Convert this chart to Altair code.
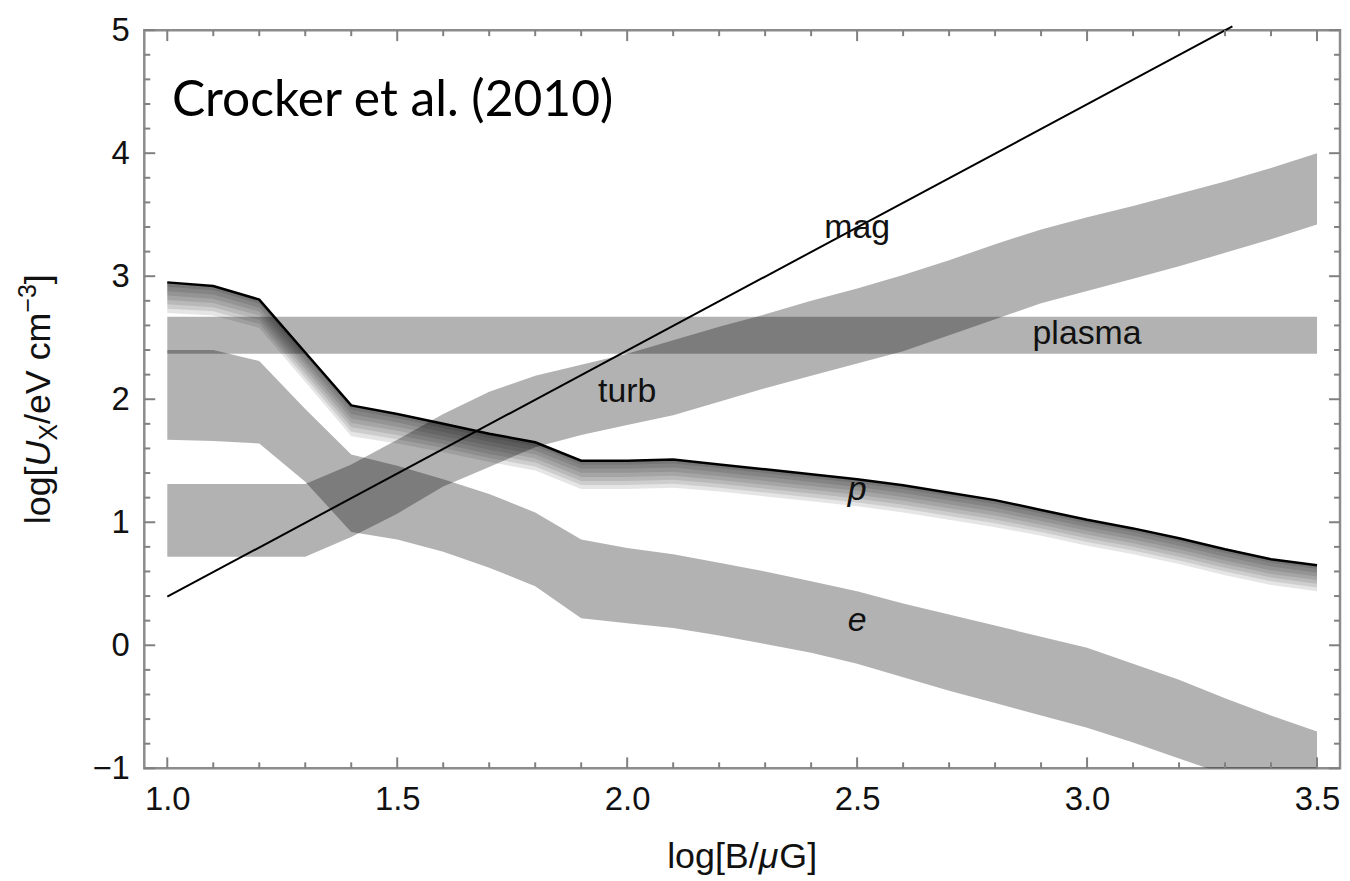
import altair as alt
import pandas as pd

# ---- data ----
B = [1.0, 1.1, 1.2, 1.3, 1.4, 1.5, 1.6, 1.7, 1.8, 1.9, 2.0, 2.1, 2.2,
     2.3, 2.4, 2.5, 2.6, 2.7, 2.8, 2.9, 3.0, 3.1, 3.2, 3.3, 3.4, 3.5]

turb_lo = [0.72, 0.72, 0.72, 0.72, 0.88, 1.07, 1.29, 1.45, 1.61, 1.71, 1.79, 1.87, 1.98,
           2.09, 2.19, 2.29, 2.39, 2.52, 2.65, 2.78, 2.88, 2.98, 3.08, 3.19, 3.30, 3.42]
turb_hi = [1.31, 1.31, 1.31, 1.31, 1.47, 1.67, 1.88, 2.06, 2.19, 2.28, 2.37, 2.48, 2.59,
           2.69, 2.80, 2.90, 3.01, 3.13, 3.26, 3.38, 3.48, 3.57, 3.67, 3.77, 3.88, 4.00]

e_lo = [1.67, 1.66, 1.64, 1.33, 0.92, 0.86, 0.76, 0.63, 0.48, 0.22, 0.18, 0.14, 0.08,
        0.01, -0.06, -0.15, -0.26, -0.37, -0.47, -0.57, -0.67, -0.79, -0.92, -1.05, -1.15, -1.25]
e_hi = [2.40, 2.40, 2.31, 1.92, 1.55, 1.46, 1.35, 1.23, 1.08, 0.86, 0.79, 0.74, 0.67,
        0.60, 0.52, 0.44, 0.34, 0.25, 0.16, 0.07, -0.02, -0.15, -0.28, -0.43, -0.57, -0.70]

p_hi = [2.95, 2.92, 2.81, 2.38, 1.95, 1.88, 1.80, 1.72, 1.65, 1.50, 1.50, 1.51, 1.47,
        1.43, 1.39, 1.35, 1.30, 1.24, 1.18, 1.10, 1.02, 0.95, 0.87, 0.78, 0.70, 0.65]
p_lo = [2.70, 2.68, 2.58, 2.14, 1.70, 1.64, 1.57, 1.49, 1.42, 1.27, 1.27, 1.28, 1.25,
        1.21, 1.17, 1.13, 1.08, 1.02, 0.96, 0.89, 0.81, 0.74, 0.66, 0.57, 0.49, 0.44]

plasma_B = [1.0, 3.5]
plasma_lo = [2.37, 2.37]
plasma_hi = [2.67, 2.67]

mag_B = [1.0, 3.316]
mag_U = [0.395, 5.03]

label_text = ["mag", "plasma", "turb"]
label_B = [2.5, 3.0, 2.0]
label_U = [3.31, 2.45, 1.98]

ital_text = ["p", "e"]
ital_B = [2.5, 2.5]
ital_U = [1.18, 0.12]

x_major = [1.0, 1.5, 2.0, 2.5, 3.0, 3.5]
x_minor = [1.1, 1.2, 1.3, 1.4, 1.6, 1.7, 1.8, 1.9, 2.1, 2.2, 2.3, 2.4,
           2.6, 2.7, 2.8, 2.9, 3.1, 3.2, 3.3, 3.4]
y_major = [-1, 0, 1, 2, 3, 4, 5]
y_minor = [-0.8, -0.6, -0.4, -0.2, 0.2, 0.4, 0.6, 0.8, 1.2, 1.4, 1.6, 1.8,
           2.2, 2.4, 2.6, 2.8, 3.2, 3.4, 3.6, 3.8, 4.2, 4.4, 4.6, 4.8]

# axis titles, typeset in pieces: (text, font size, style, baseline shift)
ytitle_parts = [("log[", 36, "normal", 0), ("U", 36, "italic", 0), ("X", 25, "normal", 7),
                ("/eV cm", 36, "normal", 0), ("−3", 25, "normal", -14), ("]", 36, "normal", 0)]
xtitle_parts = [("log[B/", 36, "normal"), ("μ", 36, "italic"), ("G]", 36, "normal")]

# Arial / Liberation Sans advance widths (em) for the title glyphs
ADV = {"l": 0.222, "o": 0.556, "g": 0.556, "[": 0.278, "]": 0.278, "U": 0.722, "X": 0.667,
       "/": 0.278, "e": 0.556, "V": 0.667, " ": 0.278, "c": 0.5, "m": 0.833, "−": 0.584,
       "3": 0.556, "B": 0.667, "μ": 0.576, "G": 0.778}

# ---- chart ----
W, H = 1202, 742
FONT = "Liberation Sans"
TXT = "#111111"
TICK = "#808080"

xs = alt.Scale(domain=[0.95, 3.55], nice=False, zero=False)
ys = alt.Scale(domain=[-1, 5], nice=False, zero=False)

bands = pd.DataFrame({"B": B, "turb_lo": turb_lo, "turb_hi": turb_hi,
                      "e_lo": e_lo, "e_hi": e_hi, "p_lo": p_lo, "p_hi": p_hi})
plasma = pd.DataFrame({"B": plasma_B, "lo": plasma_lo, "hi": plasma_hi})
mag = pd.DataFrame({"B": mag_B, "U": mag_U})
labels = pd.DataFrame({"B": label_B, "U": label_U, "t": label_text})
ital = pd.DataFrame({"B": ital_B, "U": ital_U, "t": ital_text})
crocker = pd.DataFrame({"B": [1.01], "U": [4.305], "t": ["Crocker et al. (2010)"]})

x_axis = alt.Axis(values=x_major, format=".1f", ticks=False, tickSize=0, domain=False,
                  grid=False, labelFont=FONT, labelFontSize=33, labelColor=TXT,
                  labelPadding=15, labelFlush=False, labelOverlap=False, title=None)
y_axis = alt.Axis(values=y_major, format="d", ticks=False, tickSize=0, domain=False,
                  grid=False, labelFont=FONT, labelFontSize=33, labelColor=TXT,
                  labelPadding=15, labelFlush=False, labelOverlap=False, title=None)


def XE(field):
    return alt.X(field, scale=xs, axis=x_axis)


def YE(field):
    return alt.Y(field, scale=ys, axis=y_axis)


band_mark = dict(fill="black", fillOpacity=0.3, strokeWidth=0, clip=True, interpolate="linear")

plasma_l = alt.Chart(plasma).mark_area(**band_mark).encode(
    x=XE("B:Q"), y=YE("lo:Q"), y2="hi:Q")
turb_l = alt.Chart(bands).mark_area(**band_mark).encode(
    x=XE("B:Q"), y=YE("turb_lo:Q"), y2="turb_hi:Q")
e_l = alt.Chart(bands).mark_area(**band_mark).encode(
    x=XE("B:Q"), y=YE("e_lo:Q"), y2="e_hi:Q")

p_layers = []
N = 7
for k in range(N):
    f = k / N
    p_layers.append(
        alt.Chart(bands).transform_calculate(
            lo=f"datum.p_lo + {f:.4f} * (datum.p_hi - datum.p_lo)"
        ).mark_area(fill="black", fillOpacity=0.1, strokeWidth=0, clip=True).encode(
            x=XE("B:Q"), y=YE("lo:Q"), y2="p_hi:Q"))

p_line = alt.Chart(bands).mark_line(color="black", strokeWidth=2.5).encode(
    x=XE("B:Q"), y=YE("p_hi:Q"))
mag_line = alt.Chart(mag).mark_line(color="black", strokeWidth=2).encode(
    x=XE("B:Q"), y=YE("U:Q"))

lab_l = alt.Chart(labels).mark_text(font=FONT, fontSize=34, color=TXT,
                                    align="center", baseline="alphabetic").encode(
    x=XE("B:Q"), y=YE("U:Q"), text="t:N")
ital_l = alt.Chart(ital).mark_text(font=FONT, fontSize=34, fontStyle="italic", color=TXT,
                                   align="center", baseline="alphabetic").encode(
    x=XE("B:Q"), y=YE("U:Q"), text="t:N")
croc_l = alt.Chart(crocker).mark_text(font="Lato", fontSize=50, color="black",
                                      align="left", baseline="alphabetic").encode(
    x=XE("B:Q"), y=YE("U:Q"), text="t:N")


def width_of(s, size):
    return sum(ADV.get(ch, 0.55) for ch in s) * size


# y title: rotated pieces, read bottom-to-top, centred on the plot
title_layers = []
ytot = sum(width_of(s, fs) for s, fs, _, _ in ytitle_parts)
ypos = H / 2 + ytot / 2
for s, fs, style, shift in ytitle_parts:
    title_layers.append(
        alt.Chart(pd.DataFrame({"t": [s]})).mark_text(
            font=FONT, fontSize=fs, fontStyle=style, color=TXT, angle=270,
            align="left", baseline="alphabetic").encode(
            text="t:N", x=alt.value(-95 + shift), y=alt.value(ypos)))
    ypos -= width_of(s, fs)

# x title pieces, centred under the plot
xtot = sum(width_of(s, fs) for s, fs, _ in xtitle_parts)
xpos = W / 2 - xtot / 2
for s, fs, style in xtitle_parts:
    title_layers.append(
        alt.Chart(pd.DataFrame({"t": [s]})).mark_text(
            font=FONT, fontSize=fs, fontStyle=style, color=TXT,
            align="left", baseline="alphabetic").encode(
            text="t:N", x=alt.value(xpos), y=alt.value(H + 100)))
    xpos += width_of(s, fs)


# frame ticks (inward)
def xticks(vals, L):
    d = pd.DataFrame({"B": vals})
    bot = alt.Chart(d).mark_rule(color=TICK, strokeWidth=2).encode(
        x=XE("B:Q"), y=alt.value(H), y2=alt.value(H - L))
    top = alt.Chart(d).mark_rule(color=TICK, strokeWidth=2).encode(
        x=XE("B:Q"), y=alt.value(0), y2=alt.value(L))
    return [bot, top]


def yticks(vals, L):
    d = pd.DataFrame({"U": vals})
    left = alt.Chart(d).mark_rule(color=TICK, strokeWidth=2).encode(
        y=YE("U:Q"), x=alt.value(0), x2=alt.value(L))
    right = alt.Chart(d).mark_rule(color=TICK, strokeWidth=2).encode(
        y=YE("U:Q"), x=alt.value(W), x2=alt.value(W - L))
    return [left, right]


tick_layers = xticks(x_major, 11) + xticks(x_minor, 6) + yticks(y_major, 11) + yticks(y_minor, 6)

chart = alt.layer(
    plasma_l, turb_l, e_l, *p_layers, p_line, mag_line, lab_l, ital_l, croc_l,
    *tick_layers, *title_layers
).properties(
    width=W, height=H,
    autosize=alt.AutoSizeParams(type="none"),
    padding={"left": 137, "top": 20, "right": 2, "bottom": 110},
).configure_view(
    stroke="#8c8c8c", strokeWidth=2.5
)

chart.save("out.html", embed_options={"renderer": "svg", "actions": False})
